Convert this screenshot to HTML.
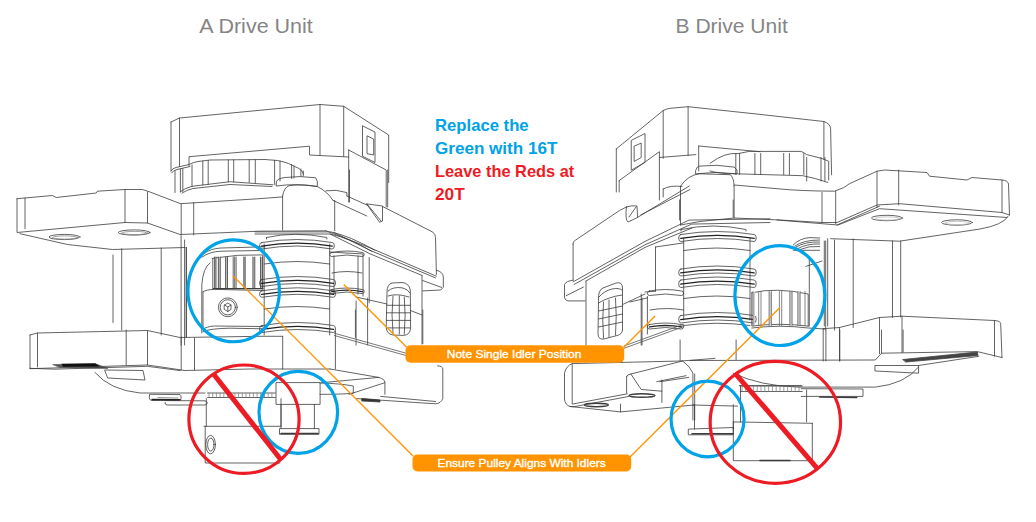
<!DOCTYPE html>
<html><head><meta charset="utf-8">
<style>
html,body{margin:0;padding:0;background:#fff;width:1036px;height:522px;overflow:hidden}
svg{display:block}
text{font-family:"Liberation Sans",sans-serif}
</style></head>
<body>
<svg width="1036" height="522" viewBox="0 0 1036 522">
<rect width="1036" height="522" fill="#fff"/>
<!-- titles -->
<text x="199.3" y="33.2" font-size="20.6" fill="#858585" textLength="113.5" lengthAdjust="spacingAndGlyphs">A Drive Unit</text>
<text x="675.5" y="33.2" font-size="20.6" fill="#858585" textLength="112.3" lengthAdjust="spacingAndGlyphs">B Drive Unit</text>

<!-- DRAWING -->
<g id="draw" fill="none" stroke="#3c3c3c" stroke-width="0.8" stroke-linejoin="round" stroke-linecap="round">
<!-- LEFT UNIT A : motor -->
<path d="M171,122 L179.5,118 L320,104.5 L343.7,106.3 L388.7,135 L388.7,182.5"/>
<path d="M171,122 L171,171 M179.5,118 L179.5,166.5 M320,104.5 L320,155 M343.7,106.3 L343.7,156.5"/>
<path d="M189,166 L189,156.7 L309.5,146.2 L309.5,155 L348.7,157"/>
<path d="M348.7,150 L348.7,202 M348.7,150 L386.2,170 L386.2,207"/>
<path d="M362.5,126.2 L362.5,156.2 L375,162.5 L375,132.5 Z M367,136.2 L367,153.7 L373.7,155 L373.7,139.5 Z"/>
<!-- gear skirt -->
<path d="M171,171 Q172,168.5 176,167.5 L189,164.5 Q194,162 198,161.5 L210,160 L265,159.5 L277.5,160.5 Q285,162 288.5,163.5 L299,168.5 Q303,171 303.5,174"/>
<path d="M171.5,173 Q173,170.5 177,169.5 L190,166.5"/>
<path d="M180.4,191.7 Q185,188 192,186.3 L229.8,181.7 L273,184.8 M182,193 Q187,190 193,188.5 L230,184.5 L272,186.5"/>
<path d="M175,171 L175,192.5 M180.4,169 L180.4,192 M182.8,168.5 L182.8,191.5 M192,165 L192,186.5 M202.8,161 L202.8,185 M208.2,160.5 L208.2,184.5 M228.3,160 L228.3,182 M233.7,160 L233.7,182 M249.2,159.8 L249.2,182.5 M255.3,159.8 L255.3,183 M274.6,160.3 L274.6,184.5 M280,161 L280,181 M291.6,164.5 L291.6,178.5 M294,166 L294,178 M300.9,169 L300.9,176 M303.3,171 L303.3,176"/>
<!-- flange cap + dome -->
<path d="M276.5,181.3 Q277,178.7 285,177.5 Q300,175.5 315.6,177.8 L317.3,181.3 L317.3,186.5 Q297,183 276.5,186 Z"/>
<path d="M282.6,196 Q284,187 289.5,185.6 Q300,184 317.3,186.5 Q328,192 333,200.4"/>
<path d="M326,190.8 Q336,189 346.9,192.6 L346.9,196"/>
<!-- main plate -->
<path d="M17,198.7 L52.5,195.5 L56.2,197.5 L96.2,193 L97.5,191.2 L125,189.5 L142.5,189.5 L150,192 L180.5,203.7 L259,198.7 L282.6,196.9"/>
<path d="M17,198.7 L17,232.5 L125,222.5 L147.5,223 L180,234.5 L259,231.2 L326,230.8"/>
<path d="M25,198 L25,228.7"/>
<path d="M20,233.7 L67.5,244.5 L112.5,249.5 L185,247.5"/>
<path d="M125,189.5 L125,222.5 M147.5,192 L147.5,223 M181.2,203.7 L181.2,235 M193.7,202.5 L193.7,235"/>
<ellipse cx="64.5" cy="237" rx="15.5" ry="2.6"/><ellipse cx="65" cy="237.5" rx="12.5" ry="1.6" stroke="#888"/>
<ellipse cx="134.2" cy="232.5" rx="16" ry="2.6"/><ellipse cx="134.7" cy="233" rx="13" ry="1.6" stroke="#888"/>
<path d="M282.6,196 L282.6,230 M334.7,200.4 L334.7,230.8 M349.5,170 L349.5,202 M387.7,170 L387.7,207"/>
<path d="M333,200.4 L366.8,216 M346.9,196 L366.8,205"/>
<path d="M366.8,203.9 L382.5,206 L382.5,221 L380,222.1 Z M367,204 L381,221"/>
<path d="M382.5,206.5 L399.3,215 L432.9,232.2 Q435.5,234.5 435.5,237.4 L436.4,274.5"/>
<path d="M326,230.8 L370,247.8 L436.4,276.2 M334,232.5 L370,250.3 L435.5,277.9 M330,234 L370,253.8 L421.7,275.3"/>
<path d="M436.4,270.2 Q443.3,272 443.3,277 L443.3,287.4 L440.7,290 L422.6,290.9 M422.6,280.5 L441.6,287.4 M422,275.3 L422,344"/>
<!-- slot -->
<path d="M387,292 Q387,284 392,283 L402,282.5 Q409,283 410.3,290 L410.6,328 Q410,335.4 403,335.4 L393,335 Q386.2,334 386.2,327 Z"/>
<path d="M388,291 Q393,286.5 402,287.8 Q408,289 410,293 M388,296 Q397,293 409,297"/>
<path d="M393,296 Q391,315 393,333 M399.3,296 L399.3,334 M404.3,297 Q406,315 404.3,334 M387,305.3 L410,305.3 M386.5,312.8 L410.5,312.8 M386.5,320.4 L410.5,320.4 M387,327.9 L410,327.9"/>
<path d="M356,297 L387,304 M410.5,310.5 L422,315 M369.2,257.6 L369.2,302.8"/>

<path d="M181.1,236 L181.1,345 M184.6,240 L184.6,345 M186.3,247.5 L186.3,337"/>
<path d="M209.9,262.9 Q203,268 201.8,284.8 L201.8,333"/>
<path d="M204,253.7 Q210,248.5 221,248 L265,246.8"/>
<path d="M201.8,257.2 Q210,251.5 221,251.2 L262,250.5"/>
<path d="M212.2,258.3 Q238,254 262.8,254.9 L262.8,289.5 M212.8,258.5 L212.8,289.5"/>
<rect x="214.6" y="257" width="1.4000000000000057" height="31.5" fill="#c4c4c4" stroke="none"/>
<rect x="218.4" y="257" width="1.9000000000000057" height="31.5" fill="#c4c4c4" stroke="none"/>
<rect x="225.6" y="257" width="1.9000000000000057" height="31.5" fill="#c4c4c4" stroke="none"/>
<rect x="243.8" y="257" width="1.3999999999999773" height="31.5" fill="#c4c4c4" stroke="none"/>
<rect x="252.9" y="257" width="1.9000000000000057" height="31.5" fill="#c4c4c4" stroke="none"/>
<rect x="260.5" y="257" width="1.8999999999999773" height="31.5" fill="#c4c4c4" stroke="none"/>
<path d="M214.6,257 L214.6,288.6" stroke-width="0.8"/>
<path d="M216,257 L216,288.6" stroke-width="0.8"/>
<path d="M218.4,257 L218.4,288.6" stroke-width="0.8"/>
<path d="M220.3,257 L220.3,288.6" stroke-width="0.8"/>
<path d="M225.6,257 L225.6,288.6" stroke-width="0.8"/>
<path d="M227.5,257 L227.5,288.6" stroke-width="0.8"/>
<path d="M233.2,257 L233.2,288.6" stroke-width="0.8"/>
<path d="M234.7,257 L234.7,288.6" stroke-width="0.8"/>
<path d="M236.1,257 L236.1,288.6" stroke-width="0.8"/>
<path d="M243.8,257 L243.8,288.6" stroke-width="0.8"/>
<path d="M245.2,257 L245.2,288.6" stroke-width="0.8"/>
<path d="M252.9,257 L252.9,288.6" stroke-width="0.8"/>
<path d="M254.8,257 L254.8,288.6" stroke-width="0.8"/>
<path d="M260.5,257 L260.5,288.6" stroke-width="0.8"/>
<path d="M262.4,257 L262.4,288.6" stroke-width="0.8"/>
<path d="M213.5,288.6 L262.8,288.6" stroke-width="1.2"/>
<path d="M203,291.7 Q206,289.6 214.5,289.4 L262.8,290.5 M203,291.7 L203,329.6 Q206,326.5 214.5,326 L262.8,326.5"/>
<path d="M203,331.5 Q210,328.5 230,328.2 L262.8,328.8"/>
<circle cx="227.8" cy="307.3" r="9.4"/><circle cx="227.8" cy="307.3" r="7.6"/>
<path d="M224.5,305 L227.8,303 L231,305 L231,309.5 L227.8,311.5 L224.5,309.5 Z M224.5,305 L227.8,307 L231,305 M227.8,307 L227.8,311.5"/>
<path d="M264.2,244 L264.2,335 M329.7,244 L329.7,335"/>
<path d="M266.5,237.5 Q295,231 326.8,237.5 L326.8,239 M266.5,237.5 L266.5,239"/>
<path d="M261.8,242.5 Q296.95000000000005,236.5 332.1,242.5 Q334.3,242.5 334.3,245.75 Q334.3,249.0 332.1,249.0 Q296.95000000000005,243.0 261.8,249.0 Q259.6,249.0 259.6,245.75 Q259.6,242.5 261.8,242.5 Z"/>
<path d="M261.6,246.075 Q296.95000000000005,240.075 332.3,246.075" stroke-width="1.3" stroke="#222"/>
<path d="M264.2,264.0 Q296.95,259.0 329.7,264.0"/>
<path d="M261.8,279.5 Q297.55,273.5 333.3,279.5 Q335.5,279.5 335.5,283.0 Q335.5,286.5 333.3,286.5 Q297.55,280.5 261.8,286.5 Q259.6,286.5 259.6,283.0 Q259.6,279.5 261.8,279.5 Z"/>
<path d="M261.6,283.35 Q297.55,277.35 333.5,283.35" stroke-width="1.3" stroke="#222"/>
<path d="M261.8,290.8 Q297.55,284.8 333.3,290.8 Q335.5,290.8 335.5,294.05 Q335.5,297.3 333.3,297.3 Q297.55,291.3 261.8,297.3 Q259.6,297.3 259.6,294.05 Q259.6,290.8 261.8,290.8 Z"/>
<path d="M261.6,294.375 Q297.55,288.375 333.5,294.375" stroke-width="1.3" stroke="#222"/>
<path d="M264.2,309.0 Q296.95,304.0 329.7,309.0"/>
<path d="M261.8,325.5 Q297.55,319.5 333.3,325.5 Q335.5,325.5 335.5,329.0 Q335.5,332.5 333.3,332.5 Q297.55,326.5 261.8,332.5 Q259.6,332.5 259.6,329.0 Q259.6,325.5 261.8,325.5 Z"/>
<path d="M261.6,329.35 Q297.55,323.35 333.5,329.35" stroke-width="1.3" stroke="#222"/>
<path d="M329.7,252 L363,254 L363,296 M334,256 L334,294 M358,256 L358,294"/>
<path d="M331.7,252.5 Q346.95,249.5 362.2,252.5 Q364.2,252.5 364.2,254.5 Q364.2,256.5 362.2,256.5 Q346.95,253.5 331.7,256.5 Q329.7,256.5 329.7,254.5 Q329.7,252.5 331.7,252.5 Z"/>
<path d="M332,273.0 Q347.0,270.0 362,273.0"/>
<path d="M331.7,289.5 Q346.95,286.5 362.2,289.5 Q364.2,289.5 364.2,291.5 Q364.2,293.5 362.2,293.5 Q346.95,290.5 331.7,293.5 Q329.7,293.5 329.7,291.5 Q329.7,289.5 331.7,289.5 Z"/>
<path d="M331.7,291.7 Q346.95,288.7 362.2,291.7" stroke-width="1.3" stroke="#222"/>
<path d="M356.1,300.9 L356.1,345 M367.6,298 L367.6,345"/>
<path d="M255,231.9 L330.9,231.9 Q350,236 375,250.3"/>
<path d="M255,234 L330,234 Q350,238 372,251.5"/>
<path d="M113,255 L113,322.5 M121.7,248.7 L121.7,330 M161.2,248 L161.2,335 M186.3,247.5 L186.3,337"/>
<path d="M30,335 L37.5,333 L147.5,330.5 L180,337.5 L259,336.3 L282.7,336.3"/>
<path d="M30,335 L30,368.7 L147.5,365 L185,370.5 L250,369 L330,369"/>
<path d="M37.5,333 L37.5,367 M126.2,330 L126.2,365 M147.5,331 L147.5,365 M181.2,337 L181.2,370 M194.5,338 L194.5,370"/>
<path d="M282.7,336.3 L282.7,369 M335.4,331 L335.4,369 M355.4,310 L355.4,337.4 M422.8,310 L422.8,343.7"/>
<path d="M53,364.6 L95,363.6 L108,368.4 L60,367.6 Z" fill="#555" stroke="#555" stroke-width="0.6"/>
<path d="M61.5,363.8 L95.3,363.4 L100,366.5 L63,366.8 Z" fill="#111" stroke="none"/>
<path d="M29.7,368.3 L54.7,369.2 L147.4,366.3 L180.2,370.6"/>
<path d="M105,370 L143,370.5 L145,380 L108,378 Z"/>
<path d="M95,372.5 Q110,390 140,393 L205,393"/>
<path d="M334.3,333.2 L406,353.2 M334.3,335.5 L406,355.5" stroke="#555"/>
<path d="M330,369 L378.6,377.4 Q384.9,379 384.9,382.7 L384.9,394.3 M321.7,382.7 L378.6,377.4 M349,394.3 L384.9,382.7"/>
<path d="M437.6,365.8 Q442.8,366 442.8,369 L442.8,398.5 Q441,403.5 435.5,403.8 L355.4,398.5"/>
<path d="M380.7,396.4 L435.5,401.5"/>
<path d="M362,398.5 L380,400 L380,402 L362,401 Z" fill="#333"/>
<path d="M150,394.3 L180,394.6 Q181,395 181,397 L181,399.5 Q180.5,400.5 178,400.5 L151.5,400.5 Q149.3,400 149.3,398 Z"/>
<path d="M152,399.5 L180,399.7" stroke-width="1.4" stroke="#222"/>
<path d="M165,400.6 L205,400.8 Q207.3,401.2 207.3,403 Q207,405 204.5,405 L167,405 Q164.5,404.5 165,402.5"/>
<path d="M158,397.5 L178,398" stroke="#777"/>
<path d="M207.5,393 L275.3,393 M207.5,397.5 L275.3,397.5"/>
<path d="M209.0,393 L209.0,397.5" stroke-width="0.7" stroke="#777"/>
<path d="M212.7,393 L212.7,397.5" stroke-width="0.7" stroke="#777"/>
<path d="M216.4,393 L216.4,397.5" stroke-width="0.7" stroke="#777"/>
<path d="M220.1,393 L220.1,397.5" stroke-width="0.7" stroke="#777"/>
<path d="M223.8,393 L223.8,397.5" stroke-width="0.7" stroke="#777"/>
<path d="M227.5,393 L227.5,397.5" stroke-width="0.7" stroke="#777"/>
<path d="M231.2,393 L231.2,397.5" stroke-width="0.7" stroke="#777"/>
<path d="M234.9,393 L234.9,397.5" stroke-width="0.7" stroke="#777"/>
<path d="M238.6,393 L238.6,397.5" stroke-width="0.7" stroke="#777"/>
<path d="M242.3,393 L242.3,397.5" stroke-width="0.7" stroke="#777"/>
<path d="M246.0,393 L246.0,397.5" stroke-width="0.7" stroke="#777"/>
<path d="M249.7,393 L249.7,397.5" stroke-width="0.7" stroke="#777"/>
<path d="M253.4,393 L253.4,397.5" stroke-width="0.7" stroke="#777"/>
<path d="M257.1,393 L257.1,397.5" stroke-width="0.7" stroke="#777"/>
<path d="M260.8,393 L260.8,397.5" stroke-width="0.7" stroke="#777"/>
<path d="M264.5,393 L264.5,397.5" stroke-width="0.7" stroke="#777"/>
<path d="M268.2,393 L268.2,397.5" stroke-width="0.7" stroke="#777"/>
<path d="M271.9,393 L271.9,397.5" stroke-width="0.7" stroke="#777"/>
<path d="M206.3,398.7 L206.3,426.3 M281,398.7 L281,426.3 M204,426.3 L281,426.3 M205.2,426.3 L205.2,463 L279.9,463"/>
<ellipse cx="210.6" cy="444.6" rx="4.8" ry="9.2"/><ellipse cx="210.8" cy="444.6" rx="3.2" ry="6.5"/>
<path d="M276.4,382.6 L320.1,382.6 L320.1,404.4 L276.4,404.4 Z"/>
<path d="M281,404.4 L281,428.6 M314.4,404.4 L314.4,428.6"/>
<path d="M279.9,428.6 L319,428.6 L319,434.3 L279.9,434.3 Z"/>
<path d="M281,433.5 L318,433.5" stroke-width="1.5"/>
<path d="M320,383 Q340,383.5 353.3,386 L353.3,393.2 Q340,394.5 320,394.3"/>
<path d="M616.3,148.9 L663.2,110.5 Q667,108.6 670,108.3 L688.1,106.7 L760,114.4 L823.9,121.5 Q830.6,124 830.6,128.8 L831.6,174.8"/>
<path d="M616.3,148.9 L616.3,192 M663.2,110.5 L663.2,158.4 M688.1,106.7 L688.1,155.6 M823.9,121.5 L823.9,159.4"/>
<path d="M659.4,157.5 L695.8,154.6"/>
<path d="M631.6,140.2 L645,133.5 L645,162.3 L631.6,170 Z M634.5,146 L641.2,143.1 L641.2,157.5 L634.5,161.3 Z"/>
<path d="M619.2,180.5 L659.4,151.7 L659.4,200 M619.2,180.5 L619.2,192"/>
<path d="M698.7,146 L760,151.7 M698.7,146 L698.7,170.9"/>
<path d="M710.2,163.2 Q725,152 738,153.6 L749.2,151.4 L800.9,151.4 Q804,152.5 806.7,154.6 L822,158.5 L828.7,161.3 L828.7,180"/>
<path d="M710,171 Q720,174 735.8,173.8 L802.8,175.7 Q815,178 827.8,182.4"/>
<path d="M735.8,153.5 L735.8,174.5"/>
<path d="M739.6,153.5 L739.6,174.5"/>
<path d="M754.9,153.5 L754.9,174.5"/>
<path d="M760.7,153.5 L760.7,174.5"/>
<path d="M783.7,153.5 L783.7,174.5"/>
<path d="M789.4,153.5 L789.4,174.5"/>
<path d="M803.8,153.5 L803.8,174.5"/>
<path d="M806.7,157.5 L806.7,181"/>
<path d="M821,157.5 L821,181"/>
<path d="M824.9,157.5 L824.9,181"/>
<path d="M695.8,170 Q697,166 699.6,166.1 Q717,164 734.1,167.1 L737,170 L737,173.8 Q716,171 695.8,173.8 Z"/>
<path d="M680.5,186.2 Q688,175 699.6,173.8 L730.3,174.7 Q734,178 734.1,186.2"/>
<path d="M680.5,186.2 L680.5,225 M734.1,186.2 L734.1,218"/>
<path d="M663.2,189 Q670,185 682,186.5 M663.2,189 L663.2,197"/>
<path d="M572.9,244.1 Q573,241 575.7,240 L619.5,210.5 L626.4,207"/>
<path d="M626.4,207 Q632,205 637,206 L637.6,217.4 L628,222 Q625,220 626.4,207 Z M629,217 L636,207"/>
<path d="M637.6,217.4 L689.3,186 M641,214.8 L690,189.5"/>
<path d="M734.1,185 L777,188.7 Q800,191 834.5,191.2 Q845,188 849.5,183.7 L877,171.2 L884.5,170 L927,172.5 L929.5,176.2 L967,180 L972,177.5 L1002,180 Q1008,180.5 1008.5,184 L1009.5,215"/>
<path d="M877,171.2 L877,207.5 M898.7,170 L898.7,205 M822,192.5 L822,222.5 M835.7,191.2 L835.7,223.7 M1002,180 L1002,212.5"/>
<path d="M680.5,225 L700,221.5 L734.1,218 L780,220 L822,222.5 L837,222.5 L877,205 L899.5,203.7 L1002,212.5 L1009.5,215"/>
<path d="M777,220 L838,225 L879.5,208.7 L1007,217.5"/>
<path d="M837,225 L879.5,206.2"/>
<ellipse cx="887" cy="218" rx="15.5" ry="2.7"/><ellipse cx="957" cy="222.5" rx="15.5" ry="2.7"/><ellipse cx="887.5" cy="218.5" rx="12.5" ry="1.6" stroke="#bbb"/><ellipse cx="957.5" cy="223" rx="12.5" ry="1.6" stroke="#bbb"/>
<path d="M1008.2,216.2 Q1003,225 980,229 L899.5,241.2 L830.7,238.7"/>
<path d="M573.1,244 L573.1,280.2"/>
<path d="M573.1,281.9 L645,241.4 L689,220.1 L770,218.8 M574,284.5 L645,244.8 L691.7,224.1 L770,222.5 M586,281 L645,247.4 L692,228"/>
<path d="M573.1,280.2 Q566,281 564.5,284.5 L564.5,297.4 Q565,300.5 567.9,300.9 L585.2,300.9 M566.2,295.7 L583.4,287.1"/>
<path d="M586,281 L586,345"/>
<path d="M598.5,300 Q598,290 603,288 L616,283 Q622.5,281.5 622.5,288 L622.5,330 Q622,334.5 617,335.5 L604,339 Q598,340 598,334 Z"/>
<path d="M599,297 Q604,291 612,289 Q619,287.5 622,290 M598.5,303 Q608,297 622,295"/>
<path d="M603.5,302 Q602,320 603.5,338 M609,300 L609,337 M615.5,298 Q617,316 615.5,335 M598.5,311 L622.5,306 M598.5,319 L622.5,314 M598.5,327 L622.5,322"/>
<path d="M623.1,304.3 L645,294 M641.2,294 L641.2,345 M645,292 L655.5,291.2"/>
<path d="M655.5,247 L655.5,291.2 M655.5,247 L683.6,242.9"/>
<path d="M630,302 L647.4,297.9 M642,298 L642,345 M647.4,296.5 L647.4,334"/>
<path d="M679.6,200 L679.6,220 M733.2,200 L733.2,217"/>
<path d="M683.7,238 L683.7,320 M750,238 L750,320"/>
<path d="M681,229.5 Q713,222.5 746,229.5 L746,231 M681,229.5 L681,231"/>
<path d="M680.9000000000001,234.5 Q717.45,228.5 754.0,234.5 Q756.2,234.5 756.2,238.0 Q756.2,241.5 754.0,241.5 Q717.45,235.5 680.9000000000001,241.5 Q678.7,241.5 678.7,238.0 Q678.7,234.5 680.9000000000001,234.5 Z"/>
<path d="M680.7,238.35 Q717.45,232.35 754.2,238.35" stroke-width="1.3" stroke="#222"/>
<path d="M683.7,250.5 Q716.85,245.5 750,250.5"/>
<path d="M680.9000000000001,269 Q717.45,263 754.0,269 Q756.2,269 756.2,272.5 Q756.2,276 754.0,276 Q717.45,270 680.9000000000001,276 Q678.7,276 678.7,272.5 Q678.7,269 680.9000000000001,269 Z"/>
<path d="M680.7,272.85 Q717.45,266.85 754.2,272.85" stroke-width="1.3" stroke="#222"/>
<path d="M680.9000000000001,280 Q717.45,274 754.0,280 Q756.2,280 756.2,283.75 Q756.2,287.5 754.0,287.5 Q717.45,281.5 680.9000000000001,287.5 Q678.7,287.5 678.7,283.75 Q678.7,280 680.9000000000001,280 Z"/>
<path d="M680.7,284.125 Q717.45,278.125 754.2,284.125" stroke-width="1.3" stroke="#222"/>
<path d="M683.7,298.5 Q716.85,293.5 750,298.5"/>
<path d="M680.9000000000001,315.5 Q717.45,309.5 754.0,315.5 Q756.2,315.5 756.2,319.25 Q756.2,323.0 754.0,323.0 Q717.45,317.0 680.9000000000001,323.0 Q678.7,323.0 678.7,319.25 Q678.7,315.5 680.9000000000001,315.5 Z"/>
<path d="M680.7,319.625 Q717.45,313.625 754.2,319.625" stroke-width="1.3" stroke="#222"/>
<path d="M683.7,325.5 Q717,321 750,325.5"/>
<path d="M649.6,291.0 Q665.5,288.0 681.4,291.0 Q683.6,291.0 683.6,293.25 Q683.6,295.5 681.4,295.5 Q665.5,292.5 649.6,295.5 Q647.4,295.5 647.4,293.25 Q647.4,291.0 649.6,291.0 Z"/>
<path d="M650,310.0 Q666.8,307.0 683.6,310.0"/>
<path d="M649.6,324.5 Q665.5,321.5 681.4,324.5 Q683.6,324.5 683.6,326.75 Q683.6,329.0 681.4,329.0 Q665.5,326.0 649.6,329.0 Q647.4,329.0 647.4,326.75 Q647.4,324.5 649.6,324.5 Z"/>
<path d="M649.4,326.975 Q665.5,323.975 681.6,326.975" stroke-width="1.3" stroke="#222"/>
<path d="M751.8,292.8 Q776,287 808.2,294 L808.2,326.1 M751.8,292.8 L751.8,326.1 Q780,322.5 808.2,326.1"/>
<rect x="753" y="292" width="2" height="33" fill="#d0d0d0" stroke="none"/>
<rect x="769.1" y="292" width="2.2999999999999545" height="33" fill="#d0d0d0" stroke="none"/>
<rect x="789.8" y="292" width="2.300000000000068" height="33" fill="#d0d0d0" stroke="none"/>
<rect x="797.8" y="292" width="2.300000000000068" height="33" fill="#d0d0d0" stroke="none"/>
<path d="M753,291.5 L753,325.5" stroke-width="0.8" stroke="#666"/>
<path d="M758.7,291.5 L758.7,325.5" stroke-width="0.8" stroke="#666"/>
<path d="M761,291.5 L761,325.5" stroke-width="0.8" stroke="#666"/>
<path d="M769.1,291.5 L769.1,325.5" stroke-width="0.8" stroke="#666"/>
<path d="M771.4,291.5 L771.4,325.5" stroke-width="0.8" stroke="#666"/>
<path d="M779.4,291.5 L779.4,325.5" stroke-width="0.8" stroke="#666"/>
<path d="M781.7,291.5 L781.7,325.5" stroke-width="0.8" stroke="#666"/>
<path d="M789.8,291.5 L789.8,325.5" stroke-width="0.8" stroke="#666"/>
<path d="M792.1,291.5 L792.1,325.5" stroke-width="0.8" stroke="#666"/>
<path d="M797.8,291.5 L797.8,325.5" stroke-width="0.8" stroke="#666"/>
<path d="M800.1,291.5 L800.1,325.5" stroke-width="0.8" stroke="#666"/>
<path d="M805,291.5 L805,325.5" stroke-width="0.8" stroke="#666"/>
<path d="M751.8,328 Q780,324.5 808.2,328 L825,329"/>
<path d="M793.2,245 Q800,238 810,237.6 L819.7,238 M795,246 Q803,240 819.7,240 M796,247 Q805,241.5 819.7,242 M798,248.5 Q807,243.5 819.7,244 M800,249.5 Q809,245.5 819.7,246.5 M793.2,250.3 L819.7,250.3"/>
<path d="M824.3,241 L824.3,326 M827.7,238.7 L827.7,326 M809.3,257 L809.3,326"/>
<path d="M805.9,266.4 L822,261"/>
<path d="M825.7,241 L825.7,330 M834.5,240 L834.5,330 M853.2,239 L853.2,327.5 M892.5,241 L892.5,317.5 M900.7,241 L900.7,317"/>
<path d="M823.2,328.7 L839.5,327.5 L879.5,317.5 L902,316.2 L994.5,320.5 Q1000.7,321 1000.7,323.7 L1002,357.5"/>
<path d="M879.5,317.5 L879.5,353.7 M902,316.2 L902,352.5 M994.5,320.5 L994.5,356 M823.2,328.7 L823.2,361 M839.5,327.5 L839.5,361"/>
<path d="M690,360.5 L875.3,360 L881.5,353.2 L977.3,351.6 L1002,357.5"/>
<path d="M903,359.5 L977.3,352 L978,355.5 L906,362 Z" fill="#444" stroke="#444"/>
<path d="M918.6,365.5 L978.8,356.3"/>
<path d="M875.3,365.5 L918.6,365.5 L918.6,373.2 L875.3,371 Z"/>
<path d="M733.2,373.2 Q760,386 798,387.1 L875.3,387.1 Q905,384 918.6,367"/>
<path d="M739.4,385.6 L801.2,385.6 M801.2,388.7 L863,389 L863,396.4 L801.2,396.4"/>
<path d="M819.7,397 L856.8,397.5" stroke-width="1.5"/>
<path d="M572.2,363.6 L680.9,361 L715,358.4"/>
<path d="M572.2,363.6 Q566,366 564.5,373.1 L564.5,399 Q565,405 570,406.5 L574,406.7 L629.1,396.4"/>
<path d="M572.2,364.5 L572.2,404.1 L627.4,393.8"/>
<path d="M570,406.5 L620.5,411.9 L694,405 M620.5,404.1 L620.5,411.9"/>
<path d="M626.6,376.6 Q627,374.5 630.9,374 L682.6,361 M626.6,376.6 L626.6,392.9"/>
<path d="M630.9,374 L641.2,389.5 L661.9,391.2 M656.7,381.7 L686,375.7 M661.9,380 L661.9,402.4"/>
<path d="M682.6,361 Q690,366 692.9,373.1 L692.9,420 M694.7,374 L694.7,420"/>
<ellipse cx="642" cy="395.5" rx="13" ry="1.8" stroke-width="1.4"/><ellipse cx="596.4" cy="405" rx="12" ry="1.7" stroke-width="1.4"/>
<path d="M624,346 L683.8,324.2 M624,348.3 L683.8,326.5" stroke="#555"/>
<path d="M680.1,340 L680.1,361 M736.1,340 L736.1,359.5 M825.9,330 L825.9,360.9 M839.8,330 L839.8,360.9 M881.5,330 L881.5,353.2 M903.1,330 L903.1,352"/>
<path d="M692.9,405 L737.6,406.1 M660,381.7 L688.7,377.4"/>
<path d="M740.5,386 L802.2,386 M740.5,391.5 L802.2,391.5 M740.5,386 L740.5,421.9 M806.6,390 L806.6,421.9"/>
<path d="M742.0,386 L742.0,391.5" stroke-width="0.7" stroke="#777"/>
<path d="M745.8,386 L745.8,391.5" stroke-width="0.7" stroke="#777"/>
<path d="M749.6,386 L749.6,391.5" stroke-width="0.7" stroke="#777"/>
<path d="M753.4,386 L753.4,391.5" stroke-width="0.7" stroke="#777"/>
<path d="M757.2,386 L757.2,391.5" stroke-width="0.7" stroke="#777"/>
<path d="M761.0,386 L761.0,391.5" stroke-width="0.7" stroke="#777"/>
<path d="M764.8,386 L764.8,391.5" stroke-width="0.7" stroke="#777"/>
<path d="M768.6,386 L768.6,391.5" stroke-width="0.7" stroke="#777"/>
<path d="M772.4,386 L772.4,391.5" stroke-width="0.7" stroke="#777"/>
<path d="M776.2,386 L776.2,391.5" stroke-width="0.7" stroke="#777"/>
<path d="M780.0,386 L780.0,391.5" stroke-width="0.7" stroke="#777"/>
<path d="M783.8,386 L783.8,391.5" stroke-width="0.7" stroke="#777"/>
<path d="M787.6,386 L787.6,391.5" stroke-width="0.7" stroke="#777"/>
<path d="M791.4,386 L791.4,391.5" stroke-width="0.7" stroke="#777"/>
<path d="M795.2,386 L795.2,391.5" stroke-width="0.7" stroke="#777"/>
<path d="M799.0,386 L799.0,391.5" stroke-width="0.7" stroke="#777"/>
<path d="M733.3,421.9 L812.3,423.3 M733.3,421.9 L733.3,460.7 L812.3,460.7 L812.3,423.3"/>
<path d="M760,460.5 L790,460.5" stroke-width="1.6"/>
<path d="M694.5,404.7 L694.5,429.1 M733.3,404.7 L733.3,429.1"/>
<path d="M688.7,429.1 L733.3,427.5 L733.3,434.8 L688.7,434.8 Z"/>
<path d="M692,433.8 L733,433.8" stroke-width="1.5"/>
</g>

<!-- note text -->
<g font-weight="bold" font-size="16.2" lengthAdjust="spacingAndGlyphs">
<text x="435" y="130.8" fill="#00a2e8" textLength="93.6" lengthAdjust="spacingAndGlyphs">Replace the</text>
<text x="435" y="153.6" fill="#00a2e8" textLength="122.4" lengthAdjust="spacingAndGlyphs">Green with 16T</text>
<text x="435" y="177.1" fill="#ed1c24" textLength="139.3" lengthAdjust="spacingAndGlyphs">Leave the Reds at</text>
<text x="435" y="200.1" fill="#ed1c24" textLength="29.8" lengthAdjust="spacingAndGlyphs">20T</text>
</g>

<!-- orange leader lines -->
<g stroke="#ff9400" stroke-width="1.35" fill="none">
<line x1="233.1" y1="276" x2="413" y2="456"/>
<line x1="343.7" y1="284.5" x2="406.5" y2="347"/>
<line x1="655.1" y1="316.1" x2="623.5" y2="347.5"/>
<line x1="779.5" y1="308" x2="630" y2="457"/>
</g>
<!-- circles -->
<g fill="none" stroke-width="3.2">
<ellipse cx="233.65" cy="290.85" rx="45.7" ry="50.9" stroke="#00a2e8"/>
<ellipse cx="298.3" cy="412.3" rx="39.3" ry="41" stroke="#00a2e8"/>
<ellipse cx="779.9" cy="295.6" rx="45" ry="49.9" stroke="#00a2e8"/>
<ellipse cx="707.55" cy="419" rx="36.5" ry="37.8" stroke="#00a2e8"/>
<ellipse cx="244" cy="419.2" rx="55.1" ry="54.2" stroke="#ed1c24"/>
<ellipse cx="775.35" cy="422.3" rx="65.2" ry="61" stroke="#ed1c24"/>
</g>
<g stroke="#ed1c24" stroke-width="5">
<line x1="213.3" y1="373.8" x2="281.1" y2="460"/>
<line x1="734.9" y1="373.1" x2="817.7" y2="468.8"/>
</g>
<!-- labels -->
<rect x="405.5" y="345.2" width="218.7" height="17.6" rx="5" fill="#ff9400"/>
<text x="446.8" y="357.8" font-size="11.2" stroke="#fff" stroke-width="0.35" fill="#fff" textLength="134.6" lengthAdjust="spacingAndGlyphs">Note Single Idler Position</text>
<rect x="412.5" y="454.4" width="218.7" height="17.1" rx="5" fill="#ff9400"/>
<text x="437.5" y="467.1" font-size="11.2" stroke="#fff" stroke-width="0.35" fill="#fff" textLength="168.2" lengthAdjust="spacingAndGlyphs">Ensure Pulley Aligns With Idlers</text>
</svg>
</body></html>
